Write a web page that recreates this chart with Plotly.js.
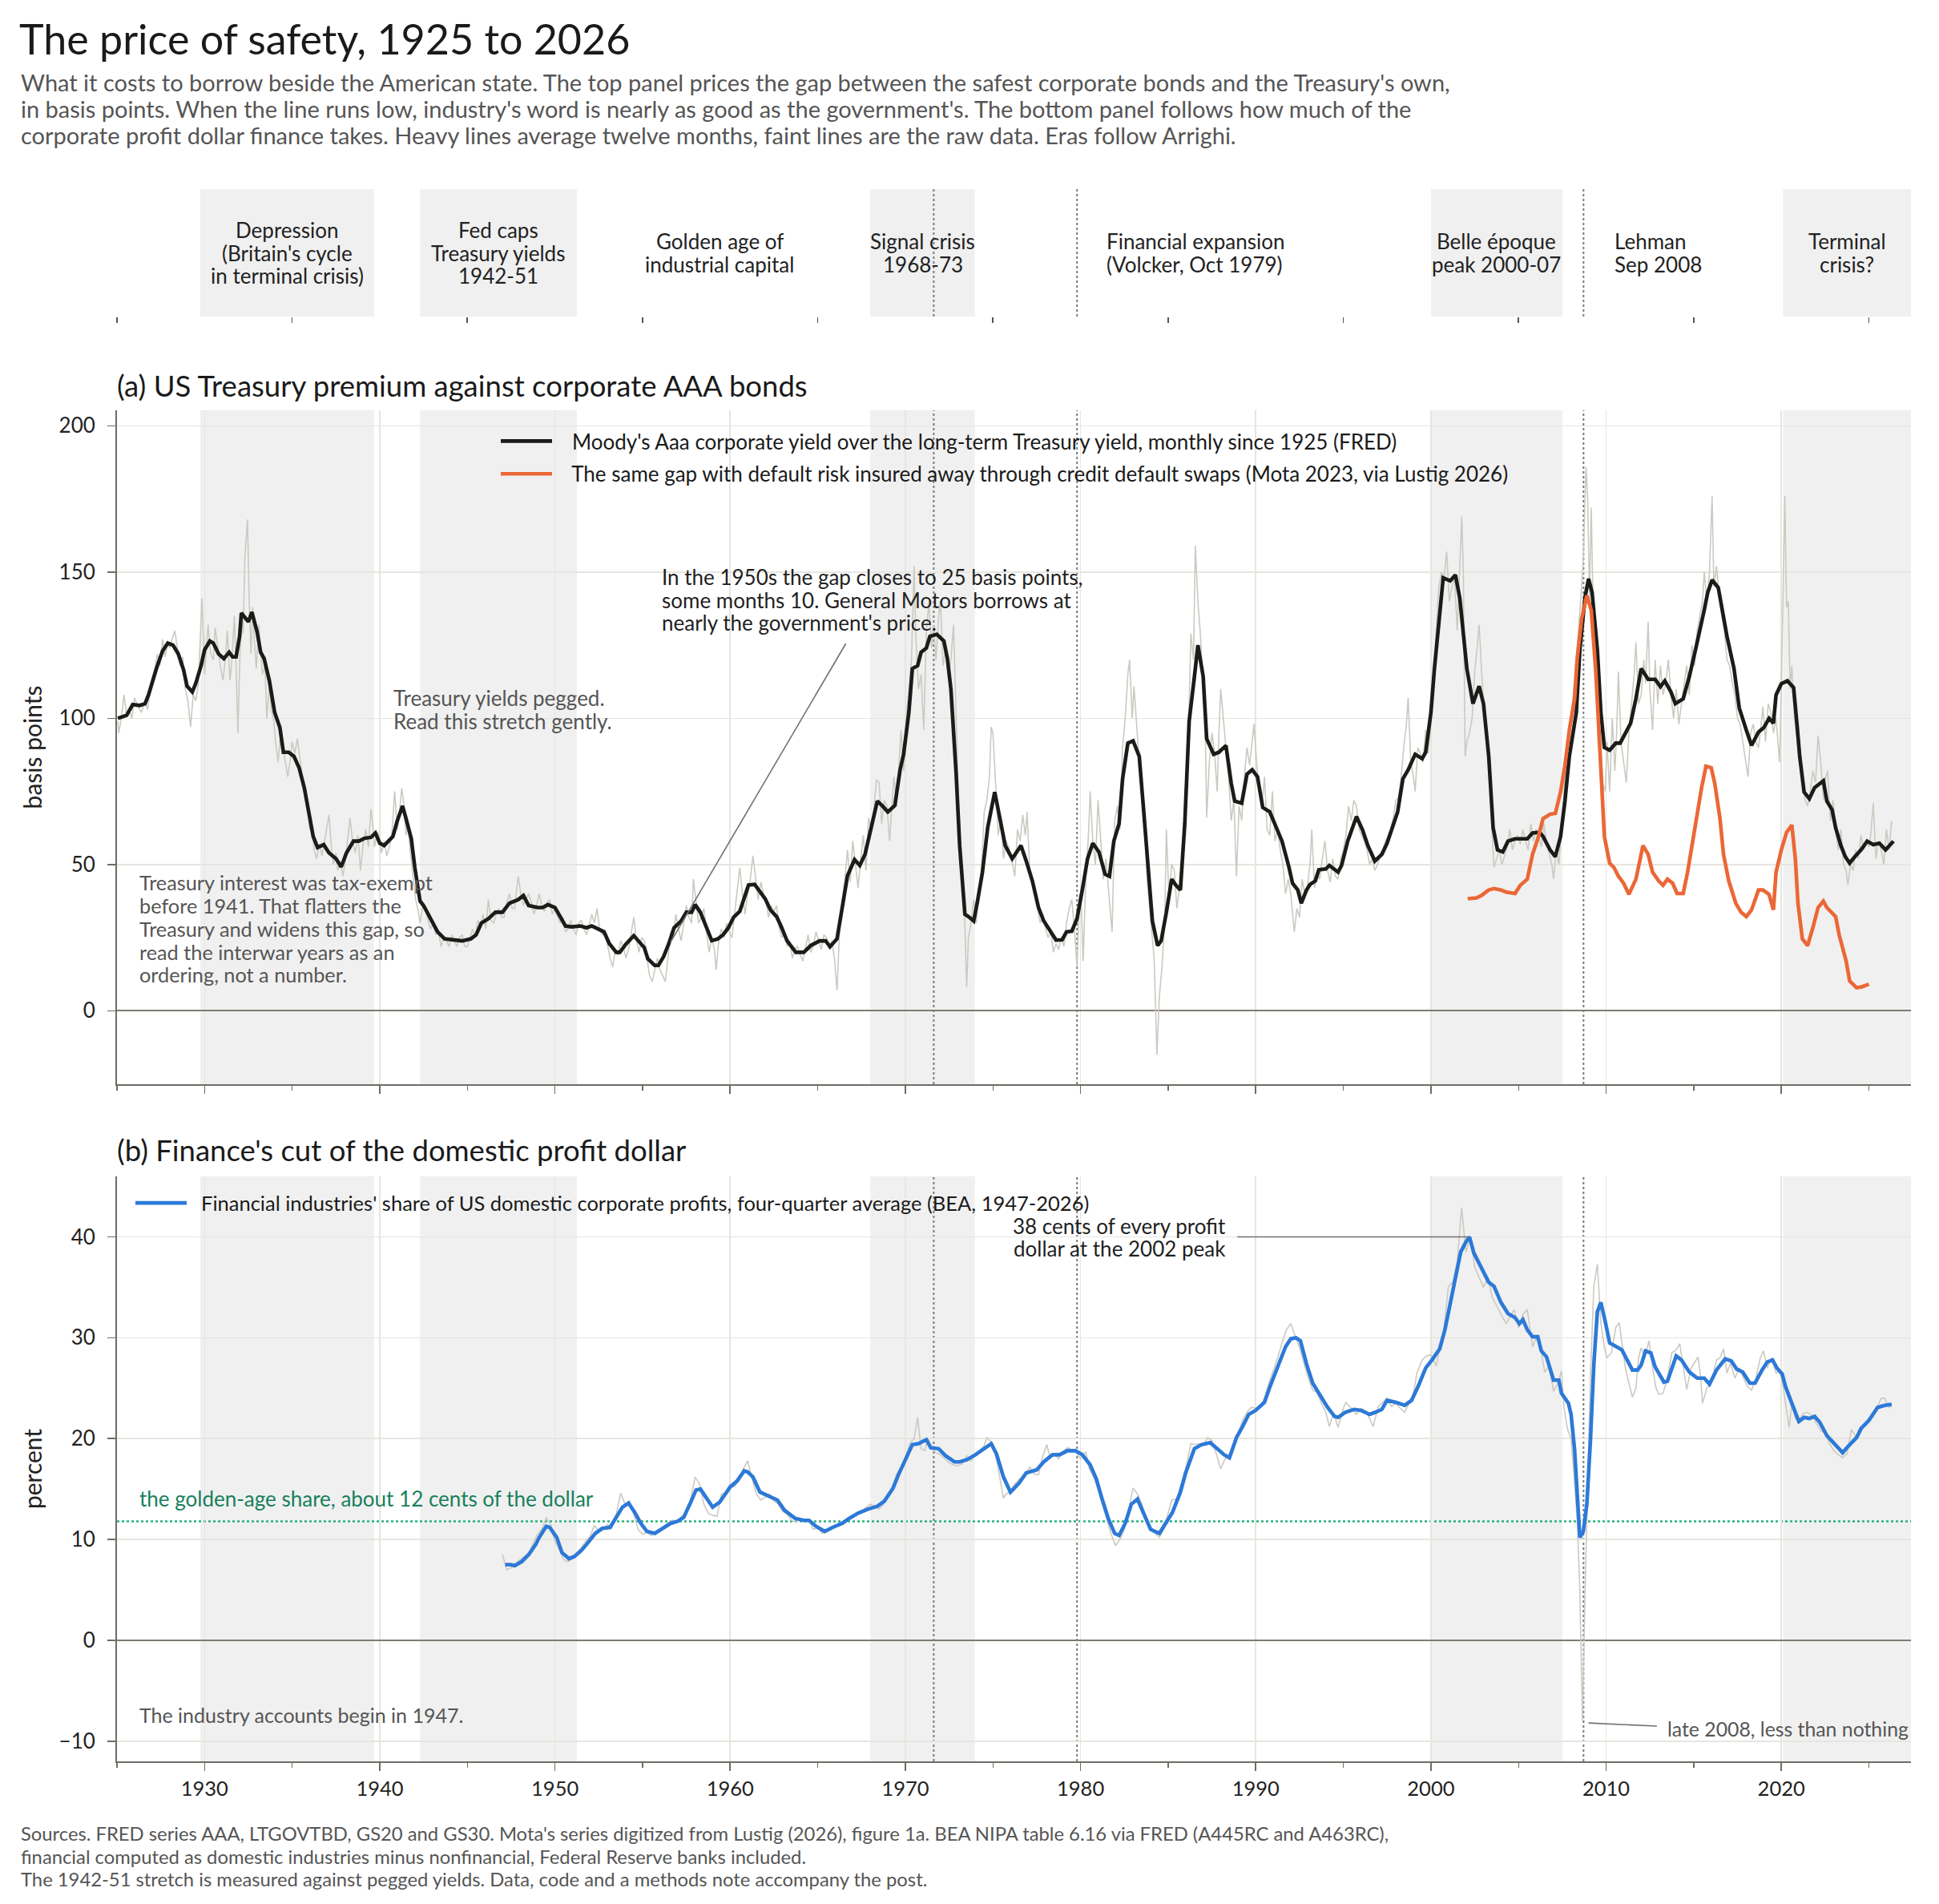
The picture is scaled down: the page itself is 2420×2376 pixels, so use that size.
<!DOCTYPE html>
<html>
<head>
<meta charset="utf-8">
<script src="https://cdn.plot.ly/plotly-3.0.1.min.js"></script>
<style>html,body{margin:0;padding:0;background:#fff;}#chart{width:2420px;height:2376px;}</style>
</head>
<body>
<div id="chart"></div>
<script>
// ---------------- DATA ----------------
// Panel (a): Moody's Aaa minus long-term Treasury, basis points, 12-month average [year, bp]
const aaaSmooth = [[1925.05,100],[1925.55,101],[1925.9,104.7],[1926.3,104.4],[1926.6,105],[1926.8,108],[1927.25,117],[1927.6,123],[1927.9,125.7],[1928.2,125],[1928.5,122],[1928.8,116.6],[1929.0,111],[1929.3,109],[1929.5,112],[1929.8,118],[1930.0,123.4],[1930.3,126.4],[1930.5,125.7],[1930.8,122],[1931.1,120.4],[1931.4,122.6],[1931.6,121],[1931.8,121],[1932.0,128],[1932.1,136],[1932.5,133],[1932.7,136.3],[1933.0,129.5],[1933.2,122.6],[1933.4,120.4],[1933.7,112.8],[1934.0,102],[1934.3,96.8],[1934.5,88.4],[1934.8,88.4],[1935.1,87],[1935.4,83],[1935.7,76],[1935.95,67],[1936.2,59.6],[1936.45,55.8],[1936.8,56.8],[1937.1,54],[1937.5,52],[1937.8,49.2],[1938.1,54],[1938.5,58],[1938.8,58],[1939.15,59],[1939.5,59.3],[1939.75,60.8],[1940.0,57.3],[1940.25,56.5],[1940.6,58.8],[1940.75,59.6],[1941.0,65],[1941.3,70],[1941.5,65.7],[1941.8,58.8],[1942.0,49],[1942.3,37.5],[1942.5,36],[1942.9,31.5],[1943.3,27],[1943.7,24.6],[1944.2,24.2],[1944.7,23.9],[1945.2,24.6],[1945.5,26],[1945.8,30],[1946.2,31.5],[1946.6,33.7],[1947.0,33.7],[1947.4,36.8],[1947.9,38],[1948.2,39.4],[1948.5,36],[1949.0,35.3],[1949.3,35.3],[1949.6,36.3],[1950.0,35.3],[1950.3,32.2],[1950.6,29],[1950.95,28.7],[1951.45,29],[1951.8,28.4],[1952.1,29],[1952.45,28],[1952.8,27],[1953.1,23],[1953.5,20],[1953.7,20],[1954.05,22.8],[1954.5,25.7],[1954.8,23.4],[1955.1,21.6],[1955.3,17.8],[1955.7,15.5],[1955.9,15.5],[1956.2,18.5],[1956.5,23],[1956.8,28.4],[1957.2,30.7],[1957.5,33.7],[1957.8,33.7],[1958.0,36.3],[1958.3,33.7],[1958.6,29],[1958.95,24],[1959.3,24.6],[1959.6,26],[1959.9,28.4],[1960.2,32],[1960.55,34],[1960.8,38.3],[1961.05,43],[1961.4,43.2],[1961.65,41.3],[1962.0,38.3],[1962.3,34.5],[1962.65,32.2],[1962.9,29],[1963.25,23.9],[1963.75,20],[1964.2,20],[1964.6,22.3],[1965.1,23.9],[1965.45,23.9],[1965.7,21.9],[1966.1,24.6],[1966.4,35.3],[1966.7,46.2],[1967.1,51.7],[1967.4,49.7],[1967.7,53.5],[1968.1,64],[1968.4,71.7],[1968.7,70],[1969.0,68],[1969.4,70.2],[1969.7,82.4],[1969.9,87.7],[1970.2,102],[1970.4,117],[1970.7,118],[1970.9,122.6],[1971.2,124],[1971.4,128],[1971.8,128.7],[1972.2,126.4],[1972.4,120.4],[1972.6,110],[1972.9,81],[1973.1,56.5],[1973.4,33],[1973.6,32.2],[1973.9,30.7],[1974.1,36.8],[1974.4,47.4],[1974.7,62.6],[1975.1,74.8],[1975.4,65.7],[1975.7,56.5],[1976.1,52],[1976.6,56.5],[1976.9,51.2],[1977.25,44.4],[1977.6,35.3],[1977.9,30.7],[1978.3,27],[1978.6,24.2],[1978.95,24.3],[1979.2,27],[1979.5,27.2],[1979.8,31.5],[1980.1,41.3],[1980.4,52],[1980.7,57.3],[1981.05,54.3],[1981.4,46.7],[1981.65,46],[1981.9,58],[1982.2,64],[1982.4,79.3],[1982.7,91.5],[1983.0,92.3],[1983.35,87],[1983.6,68.7],[1983.85,49],[1984.1,30.7],[1984.4,22.3],[1984.6,23.9],[1984.9,33.7],[1985.2,45],[1985.45,42.9],[1985.7,41.3],[1985.95,64],[1986.2,99],[1986.5,114.3],[1986.7,125],[1987.0,114.3],[1987.2,93],[1987.6,87.7],[1987.9,88.4],[1988.3,90.7],[1988.6,77.8],[1988.8,71.7],[1989.2,71],[1989.5,80.9],[1989.8,82.4],[1990.1,80],[1990.4,69.5],[1990.8,68],[1991.0,65],[1991.3,60.3],[1991.5,58],[1991.9,49],[1992.1,43.6],[1992.4,41.3],[1992.6,36.8],[1992.9,41.3],[1993.1,43.2],[1993.4,44.4],[1993.6,48.2],[1994.0,48.5],[1994.2,49.7],[1994.7,47.4],[1994.9,49.7],[1995.25,58],[1995.75,66.4],[1996.1,61.8],[1996.4,56.5],[1996.8,51.2],[1997.2,53.5],[1997.5,57.3],[1997.9,64],[1998.1,68],[1998.4,79.3],[1998.7,82.4],[1999.1,87.7],[1999.5,86.2],[1999.7,88.4],[2000.0,102],[2000.2,117],[2000.5,137],[2000.7,148],[2001.1,147],[2001.4,149],[2001.65,141],[2001.8,131],[2002.05,117],[2002.4,105],[2002.75,111],[2003.0,105],[2003.3,87],[2003.55,62.6],[2003.8,55],[2004.1,54.3],[2004.4,58],[2004.8,58.8],[2005.1,58.8],[2005.5,58.8],[2005.8,60.8],[2006.2,61],[2006.4,59.6],[2006.8,55],[2007.1,52.7],[2007.4,59.6],[2007.65,71.7],[2007.9,87],[2008.3,102],[2008.5,123.4],[2008.8,141.6],[2009.0,147.7],[2009.2,143],[2009.5,123.4],[2009.7,102],[2009.9,90],[2010.2,89.1],[2010.55,91.5],[2010.8,91.5],[2011.15,95.3],[2011.4,98.3],[2011.7,106.7],[2012.0,117],[2012.4,113.3],[2012.8,113.3],[2013.1,110.8],[2013.35,112.8],[2013.7,109],[2013.95,105],[2014.4,106.7],[2014.75,114.3],[2015.1,123.4],[2015.4,131],[2015.6,137],[2015.8,143],[2016.05,147.3],[2016.4,144.7],[2016.7,134],[2016.9,128],[2017.3,117],[2017.6,103.5],[2018.0,96],[2018.3,90.7],[2018.7,95.3],[2019.0,96.8],[2019.3,100],[2019.55,98.3],[2019.7,108],[2020.0,111.8],[2020.35,112.8],[2020.7,110.5],[2020.9,97.6],[2021.05,87],[2021.3,74.8],[2021.6,72.5],[2021.9,76.3],[2022.4,78.6],[2022.6,71.7],[2022.9,68.7],[2023.1,62.6],[2023.4,56.5],[2023.65,52.7],[2023.9,50.5],[2024.2,52.7],[2024.55,55],[2024.9,58],[2025.25,56.8],[2025.6,57.3],[2025.95,55],[2026.4,58]];

// Panel (a): the raw monthly gap (faint) [year, bp]
const aaaRaw = [[1925.05,99],[1925.1,95],[1925.25,100],[1925.4,108],[1925.55,101],[1925.7,103],[1925.85,100],[1926.0,107],[1926.2,104],[1926.4,102],[1926.6,106],[1926.75,103],[1926.9,110],[1927.1,114],[1927.3,122],[1927.45,118],[1927.6,127],[1927.75,121],[1927.9,126],[1928.0,124],[1928.15,127],[1928.3,130],[1928.45,124],[1928.6,118],[1928.75,121],[1928.9,110],[1929.05,106],[1929.2,97],[1929.35,108],[1929.5,106],[1929.65,112],[1929.85,141],[1930.0,115],[1930.2,132],[1930.35,122],[1930.5,120],[1930.6,131],[1930.75,124],[1930.9,118],[1931.05,113],[1931.2,121],[1931.3,130],[1931.45,113],[1931.55,119],[1931.7,135],[1931.8,118],[1931.9,95],[1932.0,118],[1932.1,135],[1932.2,129],[1932.3,155],[1932.45,168],[1932.55,140],[1932.65,122],[1932.75,138],[1932.85,126],[1932.95,117],[1933.1,132],[1933.2,124],[1933.3,115],[1933.45,118],[1933.55,100],[1933.7,112],[1933.8,103],[1933.95,99],[1934.05,92],[1934.2,85],[1934.35,96],[1934.5,89],[1934.6,85],[1934.75,80],[1934.9,86],[1935.0,92],[1935.15,88],[1935.3,93],[1935.45,86],[1935.55,81],[1935.7,78],[1935.85,72],[1936.0,62],[1936.1,66],[1936.25,55],[1936.4,52],[1936.55,57],[1936.7,53],[1936.85,58],[1937.0,63],[1937.1,67],[1937.25,55],[1937.35,50],[1937.5,54],[1937.6,48],[1937.75,51],[1937.9,46],[1938.05,52],[1938.15,57],[1938.3,66],[1938.45,58],[1938.6,54],[1938.75,60],[1938.9,48],[1939.05,57],[1939.2,62],[1939.35,56],[1939.5,69],[1939.6,64],[1939.7,56],[1939.85,61],[1939.95,60],[1940.1,54],[1940.25,58],[1940.4,53],[1940.55,56],[1940.7,61],[1940.85,75],[1941.0,62],[1941.1,66],[1941.25,76],[1941.35,72],[1941.5,60],[1941.6,64],[1941.75,54],[1941.9,45],[1942.05,38],[1942.2,34],[1942.3,30],[1942.45,36],[1942.6,35],[1942.75,31],[1942.9,28],[1943.05,30],[1943.2,26],[1943.35,27],[1943.5,22],[1943.65,25],[1943.8,24],[1943.95,22],[1944.1,26],[1944.25,24],[1944.4,22],[1944.55,25],[1944.7,26],[1944.85,22],[1945.0,22],[1945.15,25],[1945.3,28],[1945.45,25],[1945.6,31],[1945.75,29],[1945.9,33],[1946.05,28],[1946.2,38],[1946.35,31],[1946.5,30],[1946.65,33],[1946.8,35],[1946.95,32],[1947.1,32],[1947.25,37],[1947.4,40],[1947.55,35],[1947.7,35],[1947.9,46],[1948.05,40],[1948.2,36],[1948.35,38],[1948.5,40],[1948.65,37],[1948.8,33],[1948.95,36],[1949.1,40],[1949.25,36],[1949.4,34],[1949.55,37],[1949.7,38],[1949.85,33],[1950.0,35],[1950.15,32],[1950.3,30],[1950.45,32],[1950.6,27],[1950.75,28],[1950.9,31],[1951.05,28],[1951.2,26],[1951.35,30],[1951.5,31],[1951.65,28],[1951.8,26],[1951.95,29],[1952.1,33],[1952.25,30],[1952.4,35],[1952.55,28],[1952.7,26],[1952.85,27],[1953.0,22],[1953.15,18],[1953.3,15],[1953.45,21],[1953.6,19],[1953.75,24],[1953.9,22],[1954.05,18],[1954.2,21],[1954.35,26],[1954.5,32],[1954.65,24],[1954.8,20],[1954.95,25],[1955.1,24],[1955.25,18],[1955.4,12],[1955.55,10],[1955.7,14],[1955.85,18],[1956.0,14],[1956.15,12],[1956.3,10],[1956.45,18],[1956.6,27],[1956.75,25],[1956.9,33],[1957.05,28],[1957.2,24],[1957.35,30],[1957.5,36],[1957.65,32],[1957.8,30],[1957.9,45],[1958.05,38],[1958.2,30],[1958.35,32],[1958.5,35],[1958.65,27],[1958.8,20],[1958.95,25],[1959.1,21],[1959.2,14],[1959.35,24],[1959.5,28],[1959.65,25],[1959.8,30],[1959.95,27],[1960.1,25],[1960.25,33],[1960.4,42],[1960.55,49],[1960.7,40],[1960.85,33],[1961.0,40],[1961.15,45],[1961.3,53],[1961.45,46],[1961.6,38],[1961.75,44],[1961.9,40],[1962.05,37],[1962.2,32],[1962.35,36],[1962.5,34],[1962.65,36],[1962.8,28],[1962.95,25],[1963.1,27],[1963.25,22],[1963.4,24],[1963.55,18],[1963.7,21],[1963.85,22],[1964.0,19],[1964.15,17],[1964.3,22],[1964.45,26],[1964.6,20],[1964.75,22],[1964.9,27],[1965.05,24],[1965.2,21],[1965.35,26],[1965.5,25],[1965.65,21],[1965.8,24],[1965.95,18],[1966.1,7],[1966.25,28],[1966.4,38],[1966.55,45],[1966.7,55],[1966.85,44],[1967.0,58],[1967.15,50],[1967.3,42],[1967.45,52],[1967.6,60],[1967.75,48],[1967.9,66],[1968.05,62],[1968.2,68],[1968.35,79],[1968.5,78],[1968.65,64],[1968.8,72],[1968.95,70],[1969.1,58],[1969.25,72],[1969.35,80],[1969.5,70],[1969.65,88],[1969.75,96],[1969.9,82],[1970.05,100],[1970.2,110],[1970.35,120],[1970.5,152],[1970.6,128],[1970.75,110],[1970.9,115],[1971.05,96],[1971.2,130],[1971.35,140],[1971.5,124],[1971.6,132],[1971.75,120],[1971.9,135],[1972.0,140],[1972.15,118],[1972.3,124],[1972.45,114],[1972.6,120],[1972.75,132],[1972.9,100],[1973.05,68],[1973.2,52],[1973.35,40],[1973.5,8],[1973.6,25],[1973.75,30],[1973.9,38],[1974.05,30],[1974.2,42],[1974.35,48],[1974.5,68],[1974.65,72],[1974.8,80],[1974.9,97],[1975.0,95],[1975.15,78],[1975.3,60],[1975.45,66],[1975.6,52],[1975.75,58],[1975.9,56],[1976.05,52],[1976.25,46],[1976.4,62],[1976.55,58],[1976.7,67],[1976.85,60],[1976.95,68],[1977.1,48],[1977.25,45],[1977.4,40],[1977.55,35],[1977.7,30],[1977.85,33],[1978.0,28],[1978.15,25],[1978.3,27],[1978.45,20],[1978.6,23],[1978.75,21],[1978.9,25],[1979.05,22],[1979.2,30],[1979.35,35],[1979.5,38],[1979.65,28],[1979.8,15],[1979.95,40],[1980.05,35],[1980.15,17],[1980.3,45],[1980.45,60],[1980.55,75],[1980.7,58],[1980.85,50],[1981.0,72],[1981.15,58],[1981.3,45],[1981.45,52],[1981.6,42],[1981.8,27],[1981.95,65],[1982.1,70],[1982.25,62],[1982.4,90],[1982.55,100],[1982.7,115],[1982.8,120],[1982.95,100],[1983.05,111],[1983.2,98],[1983.35,85],[1983.5,75],[1983.65,65],[1983.8,45],[1983.95,35],[1984.1,25],[1984.2,18],[1984.36,-15],[1984.5,5],[1984.65,15],[1984.8,30],[1984.9,62],[1985.05,38],[1985.2,50],[1985.35,48],[1985.5,35],[1985.65,42],[1985.8,50],[1985.95,70],[1986.1,90],[1986.2,105],[1986.3,129],[1986.45,120],[1986.55,159],[1986.7,140],[1986.85,128],[1987.0,110],[1987.1,105],[1987.2,66],[1987.35,85],[1987.5,95],[1987.65,88],[1987.8,75],[1987.9,95],[1988.0,110],[1988.15,100],[1988.3,90],[1988.45,80],[1988.6,65],[1988.75,72],[1988.9,46],[1989.05,70],[1989.2,65],[1989.35,80],[1989.5,90],[1989.65,84],[1989.9,98],[1990.05,85],[1990.2,75],[1990.35,70],[1990.5,80],[1990.65,62],[1990.8,60],[1990.95,75],[1991.1,58],[1991.25,62],[1991.4,55],[1991.55,50],[1991.7,40],[1991.85,45],[1992.0,40],[1992.2,27],[1992.35,35],[1992.5,32],[1992.65,45],[1992.8,40],[1992.95,43],[1993.1,50],[1993.2,62],[1993.35,42],[1993.5,47],[1993.65,45],[1993.8,52],[1993.95,58],[1994.1,48],[1994.25,44],[1994.4,52],[1994.55,46],[1994.7,45],[1994.85,52],[1995.0,55],[1995.15,60],[1995.3,70],[1995.45,65],[1995.6,72],[1995.75,70],[1995.9,62],[1996.05,60],[1996.2,58],[1996.35,55],[1996.5,50],[1996.65,52],[1996.8,48],[1996.95,50],[1997.1,53],[1997.25,55],[1997.4,58],[1997.55,60],[1997.7,62],[1997.85,66],[1998.0,72],[1998.15,73],[1998.3,80],[1998.45,90],[1998.6,98],[1998.7,107],[1998.85,85],[1999.0,80],[1999.1,75],[1999.25,90],[1999.4,88],[1999.55,85],[1999.7,96],[1999.85,88],[2000.0,100],[2000.15,110],[2000.3,130],[2000.45,145],[2000.6,150],[2000.75,148],[2000.9,157],[2001.05,140],[2001.2,145],[2001.35,148],[2001.5,130],[2001.65,150],[2001.76,169],[2001.85,150],[2001.95,87],[2002.05,92],[2002.2,95],[2002.35,100],[2002.5,116],[2002.65,125],[2002.75,132],[2002.9,115],[2003.05,100],[2003.2,92],[2003.35,80],[2003.5,60],[2003.6,49],[2003.75,52],[2003.9,55],[2004.05,50],[2004.2,53],[2004.35,56],[2004.5,62],[2004.65,55],[2004.8,58],[2004.95,60],[2005.1,57],[2005.25,62],[2005.4,58],[2005.55,55],[2005.7,64],[2005.85,58],[2006.0,62],[2006.15,60],[2006.3,56],[2006.45,64],[2006.6,57],[2006.75,54],[2006.9,50],[2007.0,45],[2007.15,55],[2007.3,50],[2007.45,62],[2007.55,70],[2007.7,84],[2007.85,92],[2008.0,100],[2008.15,110],[2008.3,120],[2008.45,132],[2008.6,145],[2008.7,155],[2008.85,186],[2008.95,175],[2009.05,140],[2009.15,172],[2009.3,125],[2009.45,110],[2009.55,90],[2009.65,95],[2009.8,78],[2009.95,75],[2010.05,92],[2010.2,75],[2010.35,100],[2010.5,82],[2010.6,95],[2010.7,116],[2010.85,92],[2011.0,85],[2011.15,78],[2011.3,95],[2011.45,105],[2011.6,115],[2011.7,126],[2011.85,105],[2012.0,108],[2012.15,120],[2012.25,112],[2012.4,133],[2012.5,110],[2012.65,96],[2012.8,120],[2012.95,105],[2013.1,118],[2013.25,108],[2013.4,112],[2013.55,120],[2013.7,108],[2013.85,100],[2014.0,110],[2014.15,98],[2014.3,105],[2014.45,112],[2014.6,118],[2014.75,108],[2014.9,125],[2015.05,118],[2015.2,130],[2015.35,135],[2015.5,140],[2015.6,150],[2015.75,140],[2015.9,150],[2016.05,176],[2016.15,145],[2016.3,152],[2016.45,142],[2016.6,135],[2016.75,130],[2016.9,120],[2017.05,118],[2017.2,112],[2017.35,108],[2017.5,100],[2017.65,98],[2017.8,92],[2017.95,85],[2018.1,80],[2018.25,95],[2018.4,98],[2018.55,92],[2018.7,90],[2018.85,98],[2018.95,104],[2019.1,92],[2019.25,105],[2019.4,102],[2019.55,95],[2019.7,100],[2019.9,85],[2020.0,110],[2020.1,140],[2020.2,176],[2020.3,138],[2020.4,140],[2020.5,110],[2020.6,118],[2020.75,100],[2020.9,92],[2021.05,85],[2021.2,80],[2021.35,72],[2021.5,70],[2021.65,75],[2021.8,82],[2021.95,78],[2022.1,94],[2022.25,85],[2022.4,72],[2022.55,80],[2022.65,82],[2022.8,65],[2022.95,72],[2023.1,62],[2023.25,55],[2023.4,62],[2023.55,50],[2023.7,48],[2023.8,43],[2023.95,50],[2024.1,48],[2024.25,55],[2024.4,52],[2024.55,60],[2024.7,55],[2024.85,58],[2025.0,56],[2025.1,60],[2025.25,71],[2025.4,52],[2025.55,58],[2025.7,55],[2025.85,50],[2026.0,62],[2026.15,55],[2026.3,65]];

// Panel (a): Mota (2023) CDS-adjusted gap [year, bp]
const motaGap = [[2002.1,38.3],[2002.6,38.6],[2002.9,39.5],[2003.3,41.3],[2003.6,41.8],[2004.0,41.3],[2004.3,40.6],[2004.8,40.1],[2005.1,42.9],[2005.5,45],[2005.8,53.5],[2006.1,58.8],[2006.4,65.7],[2006.8,67.2],[2007.1,67.5],[2007.4,74.8],[2007.65,83.9],[2007.9,96],[2008.2,106.7],[2008.35,120.4],[2008.6,134],[2008.9,142],[2009.15,137],[2009.4,117],[2009.6,94.5],[2009.75,74.8],[2009.9,59.6],[2010.2,50.5],[2010.45,49],[2010.7,46],[2011.0,43.6],[2011.3,39.8],[2011.7,45],[2011.95,52],[2012.1,56.5],[2012.4,53.5],[2012.65,47.4],[2013.0,44.4],[2013.25,42.9],[2013.5,45],[2013.8,43.6],[2014.05,40.1],[2014.4,40.1],[2014.65,47.4],[2014.9,56.5],[2015.2,68.7],[2015.45,76.3],[2015.7,83.6],[2016.0,83.1],[2016.2,77.8],[2016.5,65.7],[2016.7,53.5],[2017.0,44.4],[2017.4,36.8],[2017.7,33.7],[2018.0,32.2],[2018.3,34.5],[2018.7,41.3],[2018.95,41.3],[2019.3,39.8],[2019.55,34.5],[2019.7,47.4],[2020.0,55],[2020.3,61],[2020.6,63.5],[2020.8,52],[2020.95,36.8],[2021.2,24.6],[2021.5,22.3],[2021.8,28.4],[2022.1,35.3],[2022.4,37.5],[2022.6,35.3],[2023.1,32.2],[2023.3,26],[2023.7,17],[2023.9,10.2],[2024.3,7.9],[2024.6,8.2],[2025.0,9.1]];

// Panel (b): financial share of domestic profits, four-quarter average [year, %]
const finSmooth = [[1947.16,7.5],[1947.46,7.5],[1947.7,7.4],[1948.1,7.8],[1948.5,8.5],[1948.9,9.5],[1949.1,10.2],[1949.5,11.3],[1949.7,11.2],[1950.1,10.2],[1950.4,8.7],[1950.8,8.1],[1951.1,8.3],[1951.5,8.9],[1951.8,9.5],[1952.3,10.6],[1952.7,11.1],[1953.15,11.2],[1953.5,12.2],[1953.85,13.2],[1954.2,13.6],[1954.55,12.7],[1954.9,11.6],[1955.25,10.8],[1955.7,10.6],[1956.1,11.0],[1956.6,11.6],[1957.0,11.8],[1957.35,12.2],[1957.7,13.5],[1958.05,14.9],[1958.3,15.0],[1958.7,13.9],[1959.0,13.2],[1959.4,13.7],[1959.7,14.4],[1960.0,15.2],[1960.4,15.8],[1960.8,16.8],[1961.0,16.7],[1961.3,16.2],[1961.7,14.7],[1962.2,14.3],[1962.7,13.9],[1963.1,12.9],[1963.7,12.1],[1964.2,11.9],[1964.5,11.9],[1964.9,11.3],[1965.4,10.8],[1965.85,11.2],[1966.4,11.6],[1966.8,12.1],[1967.3,12.6],[1967.85,13.0],[1968.4,13.3],[1968.8,13.8],[1969.3,15.1],[1969.6,16.4],[1969.95,17.8],[1970.4,19.4],[1970.75,19.5],[1971.2,19.9],[1971.45,19.1],[1971.9,19.0],[1972.3,18.3],[1972.8,17.7],[1973.1,17.7],[1973.5,17.9],[1974.0,18.4],[1974.5,19.0],[1974.9,19.5],[1975.2,18.5],[1975.6,16.2],[1976.0,14.7],[1976.5,15.6],[1976.9,16.6],[1977.5,16.9],[1977.9,17.7],[1978.4,18.4],[1978.8,18.4],[1979.25,18.8],[1979.7,18.8],[1980.1,18.4],[1980.55,17.4],[1980.9,16.0],[1981.25,13.9],[1981.6,12.0],[1981.95,10.6],[1982.2,10.4],[1982.55,11.6],[1982.9,13.5],[1983.25,14.0],[1983.6,12.7],[1984.0,11.0],[1984.5,10.6],[1984.8,11.4],[1985.25,12.7],[1985.7,14.7],[1986.0,16.6],[1986.5,19.0],[1986.9,19.4],[1987.4,19.6],[1987.9,18.8],[1988.2,18.4],[1988.5,18.1],[1988.9,20.1],[1989.25,21.2],[1989.6,22.4],[1990.0,22.8],[1990.5,23.6],[1990.8,25.1],[1991.25,27.0],[1991.7,29.1],[1992.0,29.9],[1992.3,30.0],[1992.55,29.7],[1992.9,27.4],[1993.25,25.5],[1993.7,24.2],[1994.1,23.1],[1994.5,22.2],[1994.7,22.1],[1995.1,22.6],[1995.6,22.9],[1996.0,22.8],[1996.5,22.4],[1996.8,22.6],[1997.2,22.9],[1997.5,23.8],[1998.0,23.6],[1998.5,23.3],[1998.9,23.8],[1999.3,25.3],[1999.7,27.0],[2000.06,27.8],[2000.5,28.9],[2000.8,30.8],[2001.1,33.3],[2001.4,36.2],[2001.7,38.5],[2002.0,39.5],[2002.2,40.0],[2002.45,38.4],[2002.85,37.0],[2003.3,35.5],[2003.6,35.1],[2004.0,33.5],[2004.4,32.4],[2004.8,32.0],[2005.05,31.4],[2005.25,31.8],[2005.5,30.8],[2005.8,30.1],[2006.1,30.1],[2006.3,28.7],[2006.6,28.1],[2007.0,25.8],[2007.3,25.8],[2007.45,24.5],[2007.85,23.5],[2008.0,22.4],[2008.2,18.9],[2008.4,13.5],[2008.5,10.2],[2008.7,10.8],[2008.9,13.5],[2009.1,19.7],[2009.3,27.4],[2009.5,32.6],[2009.7,33.5],[2009.95,31.6],[2010.2,29.5],[2010.6,29.1],[2010.9,28.8],[2011.2,27.8],[2011.5,26.8],[2011.8,26.8],[2012.0,27.3],[2012.25,28.7],[2012.55,28.5],[2012.8,27.1],[2013.3,25.6],[2013.5,25.7],[2014.0,28.2],[2014.3,27.8],[2014.75,26.6],[2015.2,26.0],[2015.6,26.0],[2015.9,25.4],[2016.3,26.8],[2016.8,27.9],[2017.15,27.7],[2017.45,26.9],[2017.8,26.6],[2018.2,25.5],[2018.5,25.5],[2018.9,26.8],[2019.2,27.6],[2019.5,27.8],[2019.75,27.0],[2020.05,26.4],[2020.25,25.1],[2020.6,23.5],[2021.0,21.7],[2021.3,22.1],[2021.6,22.0],[2021.9,22.2],[2022.2,21.6],[2022.6,20.3],[2023.1,19.3],[2023.5,18.6],[2023.85,19.3],[2024.3,20.1],[2024.55,21.0],[2025.0,21.8],[2025.5,23.1],[2025.9,23.3],[2026.3,23.4]];

// Panel (b): quarterly raw share (faint) [year, %]
const finRaw = [[1947.0,8.5],[1947.25,7.0],[1947.5,7.2],[1947.75,7.6],[1948.0,8.0],[1948.25,8.3],[1948.5,8.6],[1948.75,9.6],[1949.0,10.5],[1949.25,11.0],[1949.5,12.2],[1949.75,11.5],[1950.0,9.8],[1950.25,9.0],[1950.5,8.0],[1950.75,7.8],[1951.0,8.1],[1951.25,8.7],[1951.5,9.2],[1951.75,9.8],[1952.0,10.3],[1952.25,11.4],[1952.5,10.8],[1952.75,11.0],[1953.0,11.5],[1953.25,11.2],[1953.5,12.5],[1953.75,14.6],[1954.0,13.5],[1954.25,13.8],[1954.5,12.5],[1954.75,11.0],[1955.0,10.5],[1955.25,10.7],[1955.5,10.4],[1955.75,10.6],[1956.0,11.0],[1956.25,11.3],[1956.5,11.7],[1956.75,11.9],[1957.0,11.8],[1957.25,12.3],[1957.5,12.6],[1957.75,14.0],[1958.0,16.2],[1958.25,15.5],[1958.5,13.5],[1958.75,12.6],[1959.0,12.4],[1959.25,12.3],[1959.5,14.5],[1959.75,14.6],[1960.0,15.5],[1960.25,15.2],[1960.5,16.0],[1960.75,17.0],[1961.0,17.8],[1961.25,16.0],[1961.5,14.5],[1961.75,13.9],[1962.0,14.2],[1962.25,14.5],[1962.5,13.8],[1962.75,13.5],[1963.0,12.8],[1963.25,12.5],[1963.5,11.9],[1963.75,11.7],[1964.0,12.1],[1964.25,11.8],[1964.5,11.9],[1964.75,11.0],[1965.0,11.2],[1965.25,10.6],[1965.5,10.8],[1965.75,11.0],[1966.0,11.2],[1966.5,11.8],[1967.0,12.3],[1967.5,12.8],[1968.0,13.5],[1968.5,13.0],[1968.75,13.5],[1969.0,14.5],[1969.25,14.8],[1969.5,16.5],[1969.75,17.0],[1970.0,18.1],[1970.25,19.5],[1970.5,20.0],[1970.7,22.1],[1970.9,19.0],[1971.1,18.8],[1971.3,20.0],[1971.5,19.0],[1971.75,18.6],[1972.0,18.4],[1972.25,18.0],[1972.5,17.6],[1972.75,17.4],[1973.0,17.3],[1973.25,17.5],[1973.5,18.3],[1973.75,17.8],[1974.0,18.5],[1974.25,18.8],[1974.5,19.3],[1974.65,20.1],[1975.0,19.5],[1975.25,17.5],[1975.6,14.1],[1975.75,14.5],[1976.0,14.8],[1976.25,15.5],[1976.5,16.0],[1976.75,16.2],[1977.1,17.2],[1977.35,16.5],[1977.6,16.4],[1977.8,18.0],[1978.07,19.4],[1978.25,18.2],[1978.5,18.5],[1978.75,18.0],[1979.0,18.7],[1979.25,19.1],[1979.5,18.9],[1979.75,18.6],[1980.0,18.0],[1980.3,18.7],[1980.5,17.0],[1980.75,16.2],[1981.0,15.0],[1981.25,13.5],[1981.5,12.0],[1981.75,10.5],[1982.0,9.4],[1982.25,10.0],[1982.5,11.0],[1982.75,13.0],[1983.0,15.1],[1983.25,14.5],[1983.5,13.5],[1983.75,12.0],[1984.0,11.2],[1984.25,10.6],[1984.5,10.2],[1984.75,11.0],[1985.0,12.5],[1985.2,13.9],[1985.5,14.0],[1985.75,15.5],[1986.0,17.0],[1986.3,19.5],[1986.5,19.4],[1986.75,19.5],[1987.0,19.3],[1987.25,20.1],[1987.5,19.8],[1987.75,18.5],[1988.0,17.0],[1988.25,18.0],[1988.5,18.5],[1988.75,19.6],[1989.0,20.5],[1989.25,21.8],[1989.5,22.6],[1989.75,23.1],[1990.0,23.0],[1990.25,23.2],[1990.5,24.0],[1990.75,25.5],[1991.0,26.8],[1991.25,28.0],[1991.5,29.5],[1991.75,30.8],[1992.0,31.4],[1992.25,30.2],[1992.5,29.0],[1992.75,27.5],[1993.0,26.0],[1993.25,24.8],[1993.5,24.6],[1993.75,23.5],[1994.0,22.6],[1994.2,21.2],[1994.45,22.6],[1994.7,21.1],[1995.0,23.0],[1995.15,23.6],[1995.5,22.9],[1995.75,22.4],[1996.0,23.0],[1996.25,22.8],[1996.5,22.0],[1996.7,21.2],[1997.0,23.2],[1997.25,23.6],[1997.5,24.0],[1997.75,23.2],[1998.0,23.5],[1998.25,23.0],[1998.5,22.6],[1998.75,23.5],[1999.0,24.5],[1999.2,26.5],[1999.5,27.8],[1999.75,28.2],[2000.0,28.3],[2000.3,27.2],[2000.5,29.0],[2000.75,31.0],[2001.0,35.1],[2001.25,35.5],[2001.5,37.5],[2001.75,42.9],[2002.0,38.5],[2002.25,40.0],[2002.5,37.0],[2002.85,35.5],[2003.0,35.0],[2003.25,36.0],[2003.5,34.0],[2003.75,33.2],[2004.0,32.3],[2004.3,31.4],[2004.5,32.0],[2004.75,32.8],[2005.0,31.0],[2005.25,32.3],[2005.5,32.8],[2005.8,29.1],[2006.0,30.0],[2006.25,29.0],[2006.5,26.6],[2006.75,27.2],[2007.0,24.7],[2007.25,25.5],[2007.45,26.7],[2007.6,23.0],[2007.8,20.9],[2008.0,20.0],[2008.2,15.5],[2008.35,12.0],[2008.5,5.0],[2008.65,-8.0],[2008.8,5.0],[2008.95,16.0],[2009.1,26.0],[2009.3,35.1],[2009.5,37.3],[2009.7,31.5],[2009.9,29.0],[2010.05,28.0],[2010.3,28.5],[2010.55,31.0],[2010.75,31.5],[2010.9,29.5],[2011.1,27.0],[2011.3,25.5],[2011.5,24.1],[2011.7,25.0],[2011.85,28.0],[2012.0,29.0],[2012.2,28.0],[2012.45,29.7],[2012.65,27.0],[2012.85,25.0],[2013.0,24.4],[2013.25,24.5],[2013.5,26.0],[2013.75,28.5],[2014.0,28.8],[2014.2,29.4],[2014.4,27.0],[2014.6,24.9],[2014.85,27.0],[2015.25,28.1],[2015.4,26.0],[2015.5,23.5],[2015.75,25.0],[2016.0,25.5],[2016.3,27.8],[2016.5,28.0],[2016.7,28.9],[2016.9,26.5],[2017.1,27.5],[2017.35,26.0],[2017.6,27.0],[2017.85,26.0],[2018.05,25.2],[2018.3,24.8],[2018.55,26.0],[2018.8,28.0],[2018.98,28.7],[2019.2,27.0],[2019.45,28.0],[2019.7,26.5],[2019.95,26.8],[2020.2,24.0],[2020.45,21.1],[2020.6,23.5],[2020.8,22.0],[2021.0,21.8],[2021.25,22.5],[2021.5,22.6],[2021.75,22.3],[2022.0,21.5],[2022.25,20.8],[2022.5,20.5],[2022.75,19.5],[2023.0,18.8],[2023.25,18.4],[2023.5,18.1],[2023.75,18.5],[2024.0,20.9],[2024.25,20.2],[2024.5,20.5],[2024.75,21.5],[2025.0,22.0],[2025.25,22.5],[2025.5,23.2],[2025.7,24.0],[2025.9,24.0],[2026.1,23.2],[2026.25,23.0]];

// Eras (Arrighi) and event markers
const eraStart = [1929.75, 1942.3, 1968.0, 2000.0, 2020.1];
const eraEnd   = [1939.67, 1951.25, 1973.97, 2007.5, 2027.4];
const eventYears = [1971.62, 1979.8, 2008.71];
const eraLabels = [["Depression","(Britain's cycle","in terminal crisis)"], ["Fed caps","Treasury yields","1942-51"], ["Golden age of","industrial capital"], ["Signal crisis","1968-73"], ["Financial expansion","(Volcker, Oct 1979)"], ["Belle époque","peak 2000-07"], ["Lehman","Sep 2008"], ["Terminal","crisis?"]];
const eraLabelYear = [1934.7, 1946.75, 1959.4, 1971.0, 1981.4, 2003.75, 2010.4, 2023.75];
const eraLabelAlign = ["center","center","center","center","left","center","left","center"];
const goldenAgeShare = 11.8;
const xRange = [1925.0, 2027.4];
const bpTicks = [0, 50, 100, 150, 200];
const pctTicks = [-10, 0, 10, 20, 30, 40];
const eraTicks = [1925,1935,1945,1955,1965,1975,1985,1995,2005,2015,2025];

// ---------------- LAYOUT HELPERS ----------------
const W = 2420, H = 2376;
const px = v => v / W;          // pixel -> paper x
const py = v => 1 - v / H;      // pixel -> paper y
const xDom = [px(146), px(2385)];
const FONT = 'Lato, "Noto Sans", sans-serif';
const GRID = '#e7e5e0', AXIS = '#6f6c66', BAND = '#f0f0f0';
const NB = '\u00a0\u00a0\u00a0';

const xs = a => a.map(p => p[0]);
const ys = a => a.map(p => p[1]);

const data = [
  {x: xs(aaaRaw), y: ys(aaaRaw), xaxis: 'x2', yaxis: 'y2', type: 'scatter', mode: 'lines',
   line: {color: '#ccc9c1', width: 1.6}, showlegend: false, hoverinfo: 'skip'},
  {x: xs(aaaSmooth), y: ys(aaaSmooth), xaxis: 'x2', yaxis: 'y2', type: 'scatter', mode: 'lines',
   name: NB + "Moody's Aaa corporate yield over the long-term Treasury yield, monthly since 1925 (FRED)",
   line: {color: '#1b1b19', width: 4.6}, legend: 'legend', legendgroup: 'a1'},
  {x: xs(motaGap), y: ys(motaGap), xaxis: 'x2', yaxis: 'y2', type: 'scatter', mode: 'lines',
   name: NB + 'The same gap with default risk insured away through credit default swaps (Mota 2023, via Lustig 2026)',
   line: {color: '#eb6736', width: 4.6}, legend: 'legend', legendgroup: 'a2'},
  {x: xs(finRaw), y: ys(finRaw), xaxis: 'x3', yaxis: 'y3', type: 'scatter', mode: 'lines',
   line: {color: '#ccc9c1', width: 1.6}, showlegend: false, hoverinfo: 'skip'},
  {x: xs(finSmooth), y: ys(finSmooth), xaxis: 'x3', yaxis: 'y3', type: 'scatter', mode: 'lines',
   name: '\u00a0\u00a0' + "Financial industries' share of US domestic corporate profits, four-quarter average (BEA, 1947-2026)",
   line: {color: '#2c79d8', width: 4.6}, legend: 'legend2'}
];

const shapes = [];
const panels = [['x', 'y'], ['x2', 'y2'], ['x3', 'y3']];
panels.forEach(([xa, ya]) => {
  eraStart.forEach((s, i) => shapes.push({type: 'rect', xref: xa, yref: ya + ' domain', x0: s, x1: eraEnd[i], y0: 0, y1: 1,
    fillcolor: BAND, line: {width: 0}, layer: 'below'}));
});
panels.forEach(([xa, ya]) => {
  eventYears.forEach(e => shapes.push({type: 'line', xref: xa, yref: ya + ' domain', x0: e, x1: e, y0: 0, y1: 1,
    line: {color: '#7b7b7b', width: 2, dash: 'dot'}, layer: 'below'}));
});
// golden-age reference
shapes.push({type: 'line', xref: 'x3 domain', yref: 'y3', x0: 0, x1: 1, y0: goldenAgeShare, y1: goldenAgeShare,
  line: {color: '#27b27c', width: 2.6, dash: 'dot'}, layer: 'below'});
// annotation leader lines
const leaderGM = [[1966.6, 125.5], [1956.6, 23.5]];
const leaderPeak = [[1988.95, 40.0], [2002.1, 40.0]];
const leaderLehman = [[2009.0, -8.2], [2012.9, -8.5]];
shapes.push({type: 'line', xref: 'x2', yref: 'y2', x0: leaderGM[0][0], y0: leaderGM[0][1], x1: leaderGM[1][0], y1: leaderGM[1][1], line: {color: '#707070', width: 1.6}, layer: 'above'});
shapes.push({type: 'line', xref: 'x3', yref: 'y3', x0: leaderPeak[0][0], y0: leaderPeak[0][1], x1: leaderPeak[1][0], y1: leaderPeak[1][1], line: {color: '#707070', width: 1.6}, layer: 'above'});
shapes.push({type: 'line', xref: 'x3', yref: 'y3', x0: leaderLehman[0][0], y0: leaderLehman[0][1], x1: leaderLehman[1][0], y1: leaderLehman[1][1], line: {color: '#707070', width: 1.6}, layer: 'above'});

const annotations = [];
// multi-line text block with exact line spacing (px)
function block(lines, base, step, font) {
  lines.forEach((t, i) => annotations.push(Object.assign({showarrow: false, yanchor: 'middle', text: t, font: font}, base,
    {yshift: (base.yshift || 0) - i * step})));
}
// subtitle (line centres 103, 136, 169 px)
block(["What it costs to borrow beside the American state. The top panel prices the gap between the safest corporate bonds and the Treasury's own,",
       "in basis points. When the line runs low, industry's word is nearly as good as the government's. The bottom panel follows how much of the",
       "corporate profit dollar finance takes. Heavy lines average twelve months, faint lines are the raw data. Eras follow Arrighi."],
  {xref: 'paper', yref: 'paper', x: px(24), y: py(102), xanchor: 'left', align: 'left'}, 33, {size: 29, color: '#555555'});
// panel titles
annotations.push({xref: 'paper', yref: 'paper', x: px(144), y: py(481), xanchor: 'left', yanchor: 'middle', showarrow: false,
  font: {size: 36.5, color: '#1a1a1a'}, text: '(a) US Treasury premium against corporate AAA bonds'});
annotations.push({xref: 'paper', yref: 'paper', x: px(144), y: py(1435), xanchor: 'left', yanchor: 'middle', showarrow: false,
  font: {size: 36.5, color: '#1a1a1a'}, text: "(b) Finance's cut of the domestic profit dollar"});
// era labels
eraLabels.forEach((ls, i) => block(ls, {xref: 'x', yref: 'y', x: eraLabelYear[i], y: 0.5,
  xanchor: eraLabelAlign[i] === 'left' ? 'left' : 'center', align: eraLabelAlign[i], yshift: (ls.length - 1) / 2 * 28.5}, 28.5,
  {size: 26, color: '#222222'}));
// panel (a) notes
block(["In the 1950s the gap closes to 25 basis points,", "some months 10. General Motors borrows at", "nearly the government's price."],
  {xref: 'x2', yref: 'y2', x: 1956.0, y: 148.2, xanchor: 'left', align: 'left'}, 28.5, {size: 26, color: '#1f1f1f'});
block(['Treasury yields pegged.', 'Read this stretch gently.'],
  {xref: 'x2', yref: 'y2', x: 1940.7, y: 107, xanchor: 'left', align: 'left'}, 28.8, {size: 26, color: '#555555'});
block(['Treasury interest was tax-exempt', 'before 1941. That flatters the', 'Treasury and widens this gap, so', 'read the interwar years as an', 'ordering, not a number.'],
  {xref: 'x2', yref: 'y2', x: 1926.2, y: 43.9, xanchor: 'left', align: 'left'}, 28.8, {size: 25.3, color: '#555555'});
// panel (b) notes
annotations.push({xref: 'x3', yref: 'y3', x: 1926.2, y: 14.1, xanchor: 'left', yanchor: 'middle', showarrow: false,
  font: {size: 26, color: '#17805a'}, text: 'the golden-age share, about 12 cents of the dollar'});
annotations.push({xref: 'x3', yref: 'y3', x: 1926.2, y: -7.4, xanchor: 'left', yanchor: 'middle', showarrow: false,
  font: {size: 25, color: '#555555'}, text: 'The industry accounts begin in 1947.'});
block(['38 cents of every profit', 'dollar at the 2002 peak'],
  {xref: 'x3', yref: 'y3', x: 1988.4, y: 41.1, xanchor: 'right', align: 'right'}, 28, {size: 26, color: '#1f1f1f'});
annotations.push({xref: 'x3', yref: 'y3', x: 2013.4, y: -8.8, xanchor: 'left', yanchor: 'middle', showarrow: false,
  font: {size: 24.8, color: '#555555'}, text: 'late 2008, less than nothing'});
// sources (line centres 2288, 2317, 2346 px)
block(["Sources. FRED series AAA, LTGOVTBD, GS20 and GS30. Mota's series digitized from Lustig (2026), figure 1a. BEA NIPA table 6.16 via FRED (A445RC and A463RC),",
       "financial computed as domestic industries minus nonfinancial, Federal Reserve banks included.",
       "The 1942-51 stretch is measured against pegged yields. Data, code and a methods note accompany the post."],
  {xref: 'paper', yref: 'paper', x: px(24), y: py(2288), xanchor: 'left', align: 'left'}, 28.5, {size: 23.8, color: '#555555'});

const timeAxis = (anchor, labels) => ({
  domain: xDom, anchor: anchor, range: xRange, tick0: 1930, dtick: 10, ticks: 'outside', ticklen: 10, tickwidth: 1.6, tickcolor: AXIS,
  minor: {dtick: 5, tick0: 1925, ticks: 'outside', ticklen: 6, tickwidth: 1.4, tickcolor: AXIS, showgrid: false},
  showticklabels: labels, tickfont: {size: 25.5, color: '#222'}, ticklabelstandoff: 0,
  showgrid: true, gridcolor: GRID, gridwidth: 1.6, showline: true, linecolor: AXIS, linewidth: 2, zeroline: false, fixedrange: true
});
const valueAxis = (dom, range, vals, title) => ({
  domain: dom, range: range, tickmode: 'array', tickvals: vals, ticks: 'outside', ticklen: 10, tickwidth: 1.6,
  tickcolor: AXIS, tickfont: {size: 26, color: '#222'}, ticklabelstandoff: 10, showgrid: true, gridcolor: GRID, gridwidth: 1.6,
  showline: true, linecolor: AXIS, linewidth: 2, zeroline: true, zerolinecolor: '#7f7b72', zerolinewidth: 2, fixedrange: true,
  title: {text: title, font: {size: 30, color: '#222'}, standoff: 12}
});

const layout = {
  width: W, height: H, margin: {l: 0, r: 0, t: 0, b: 0},
  paper_bgcolor: '#ffffff', plot_bgcolor: 'rgba(0,0,0,0)',
  font: {family: FONT, size: 22, color: '#1a1a1a'},
  title: {text: 'The price of safety, 1925 to 2026', x: px(24), xanchor: 'left', xref: 'paper', y: py(50), yanchor: 'middle', yref: 'paper',
    font: {size: 52, color: '#1a1a1a'}},
  showlegend: true,
  xaxis: {domain: xDom, anchor: 'y', range: xRange, tickmode: 'array', tickvals: eraTicks, ticks: 'outside', ticklen: 7, tickwidth: 1.6,
    tickcolor: '#555', showticklabels: false, showgrid: false, zeroline: false, showline: false, fixedrange: true},
  yaxis: {domain: [py(395), py(236)], range: [0, 1], visible: false, fixedrange: true},
  xaxis2: timeAxis('y2', false),
  yaxis2: valueAxis([py(1353), py(512)], [-25.1, 205.3], bpTicks, 'basis points'),
  xaxis3: timeAxis('y3', true),
  yaxis3: valueAxis([py(2198), py(1468)], [-12, 46], pctTicks, 'percent'),
  legend: {x: px(620), xanchor: 'left', y: py(527), yanchor: 'top', bgcolor: 'rgba(0,0,0,0)', borderwidth: 0,
    font: {size: 26, color: '#1a1a1a'}, itemwidth: 64, tracegroupgap: 4, traceorder: 'grouped'},
  legend2: {x: px(164), xanchor: 'left', y: py(1478), yanchor: 'top', bgcolor: 'rgba(0,0,0,0)', borderwidth: 0,
    font: {size: 25.5, color: '#1a1a1a'}, itemwidth: 64},
  shapes: shapes,
  annotations: annotations
};

Plotly.newPlot('chart', data, layout, {staticPlot: true, displayModeBar: false});
</script>
</body>
</html>
